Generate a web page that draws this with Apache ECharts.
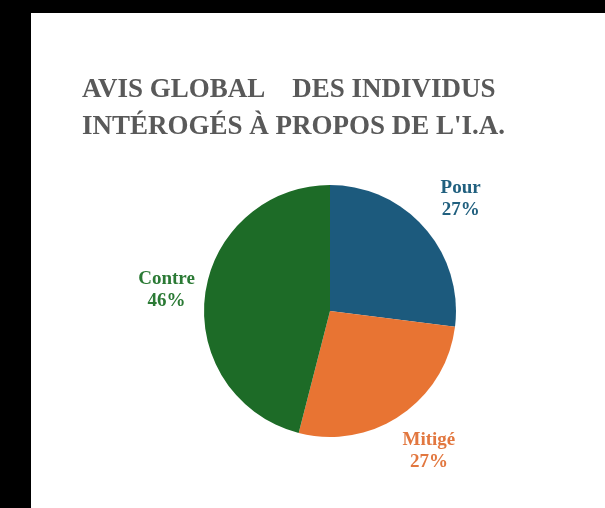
<!DOCTYPE html>
<html><head><meta charset="utf-8">
<script src="https://cdn.jsdelivr.net/npm/echarts@6/dist/echarts.min.js"></script>
<style>html,body{margin:0;padding:0;background:#000;}#c{width:605px;height:508px;}</style>
</head><body><div id="c"></div>
<script>
const titleLines = ["AVIS GLOBAL    DES INDIVIDUS", "INTÉROGÉS À PROPOS DE L'I.A."];
const categories = ["Pour", "Mitigé", "Contre"];
const values = [27, 27, 46];
const sliceColors = ["#1c5a7d", "#e87433", "#1d6b27"];
const labelColors = ["#21607f", "#e2773f", "#2b7a35"];

const chart = echarts.init(document.getElementById('c'));
const cx = 330, cy = 311, R = 126;
const total = values.reduce((a, b) => a + b, 0);
const mids = [];
let acc = 0;
values.forEach(v => { mids.push((acc + v / 2) / total * 2 * Math.PI); acc += v; });

chart.setOption({
  backgroundColor: '#000',
  animation: false,
  graphic: [{ type: 'rect', shape: { x: 31, y: 13, width: 574, height: 495 }, style: { fill: '#fff' }, z: -10 }],
  title: {
    text: titleLines.join('\n'), left: 77, top: 67,
    textStyle: { fontFamily: 'Liberation Serif', fontWeight: 'bold', fontSize: 27, color: '#595959', lineHeight: 37 }
  },
  series: [{
    type: 'pie', center: [cx, cy], radius: R, startAngle: 90, clockwise: true,
    data: categories.map((c, i) => ({ name: c, value: values[i], itemStyle: { color: sliceColors[i] },
      label: { color: labelColors[i] } })),
    itemStyle: { borderWidth: 0 },
    label: { show: true, position: 'outside', formatter: '{b}\n{d}%', fontFamily: 'Liberation Serif',
      fontWeight: 'bold', fontSize: 19, lineHeight: 22 },
    labelLine: { show: false },
    labelLayout: function (p) {
      const a = mids[p.dataIndex];
      return { x: cx + 4 + 1.34 * R * Math.sin(a), y: cy - 1.34 * R * Math.cos(a), align: 'center', verticalAlign: 'middle' };
    }
  }]
});
</script></body></html>
